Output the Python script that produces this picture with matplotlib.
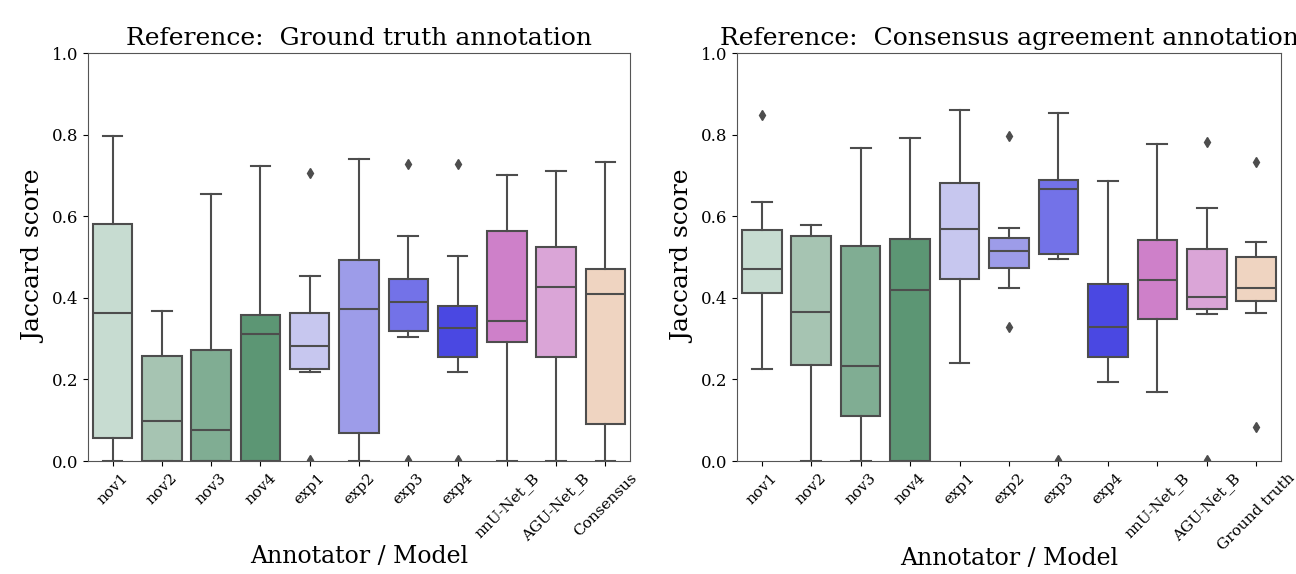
import matplotlib
matplotlib.use("Agg")
import matplotlib.pyplot as plt

plt.rcParams['font.family'] = ['DejaVu Serif']

labels_left = ["nov1", "nov2", "nov3", "nov4", "exp1", "exp2", "exp3", "exp4",
               "nnU-Net_B", "AGU-Net_B", "Consensus"]
labels_right = ["nov1", "nov2", "nov3", "nov4", "exp1", "exp2", "exp3", "exp4",
                "nnU-Net_B", "AGU-Net_B", "Ground truth"]

colors = ["#c7dcd1", "#a6c4b2", "#80ad93", "#5c9674", "#c7c7ef", "#9d9ce9",
          "#7372e8", "#4a48e2", "#ce80c9", "#daa5d7", "#efd4c1"]

# Left panel: reference = ground truth annotation
left_whislo = [0.0, 0.0, 0.0, 0.0, 0.218, 0.0, 0.305, 0.218, 0.0, 0.0, 0.0]
left_q1     = [0.056, 0.0, 0.0, 0.0, 0.226, 0.068, 0.3175, 0.256, 0.292, 0.256, 0.091]
left_med    = [0.363, 0.099, 0.077, 0.312, 0.283, 0.373, 0.3895, 0.327, 0.342, 0.426, 0.409]
left_q3     = [0.580, 0.258, 0.273, 0.358, 0.363, 0.493, 0.445, 0.3805, 0.563, 0.525, 0.471]
left_whishi = [0.796, 0.368, 0.654, 0.724, 0.4525, 0.740, 0.5516, 0.502, 0.700, 0.710, 0.733]
left_fliers = [[], [], [], [], [0.705, 0.003], [], [0.7275, 0.003], [0.729, 0.003], [], [], []]

# Right panel: reference = consensus agreement annotation
right_whislo = [0.225, 0.0, 0.0, 0.0, 0.239, 0.425, 0.496, 0.194, 0.168, 0.361, 0.363]
right_q1     = [0.4116, 0.2365, 0.110, 0.0, 0.446, 0.474, 0.507, 0.256, 0.349, 0.3715, 0.392]
right_med    = [0.4705, 0.366, 0.233, 0.419, 0.5696, 0.514, 0.666, 0.328, 0.4435, 0.403, 0.423]
right_q3     = [0.566, 0.5516, 0.526, 0.544, 0.681, 0.5466, 0.689, 0.4345, 0.542, 0.520, 0.499]
right_whishi = [0.634, 0.5786, 0.767, 0.792, 0.860, 0.571, 0.852, 0.686, 0.778, 0.6195, 0.537]
right_fliers = [[0.848], [], [], [], [], [0.796, 0.329], [0.003], [], [], [0.781, 0.003], [0.734, 0.083]]


def draw(ax, labels, whislo, q1, med, q3, whishi, fliers, title, xlabel_y):
    stats = []
    for i in range(len(labels)):
        stats.append(dict(label=labels[i], whislo=whislo[i], q1=q1[i], med=med[i],
                          q3=q3[i], whishi=whishi[i], fliers=fliers[i]))
    edge = "#4d4d4d"
    bp = ax.bxp(stats, positions=range(len(labels)), widths=0.8, patch_artist=True,
                showfliers=True,
                boxprops=dict(edgecolor=edge, linewidth=1.5),
                medianprops=dict(color=edge, linewidth=1.5),
                whiskerprops=dict(color=edge, linewidth=1.5),
                capprops=dict(color=edge, linewidth=1.5),
                flierprops=dict(marker="d", markerfacecolor=edge, markeredgecolor=edge,
                                markersize=5))
    for patch, c in zip(bp["boxes"], colors):
        patch.set_facecolor(c)
    for cap in bp["caps"]:
        x = cap.get_xdata()
        mid = (x[0] + x[1]) / 2
        cap.set_xdata([mid - 0.2, mid + 0.2])
    ax.set_xlim(-0.5, len(labels) - 0.5)
    ax.set_ylim(0, 1.0)
    ax.set_yticks([0.0, 0.2, 0.4, 0.6, 0.8, 1.0])
    ax.set_xticks(range(len(labels)))
    ax.set_xticklabels(labels, rotation=45, ha="center", fontsize=11)
    ax.tick_params(axis="y", labelsize=12)
    ax.set_ylabel("Jaccard score", fontsize=18)
    ax.set_xlabel("Annotator / Model", fontsize=17)
    ax.xaxis.set_label_coords(0.5, xlabel_y)
    ax.set_title(title, fontsize=18)
    for s in ax.spines.values():
        s.set_color("#555555")


fig = plt.figure(figsize=(12.96, 5.74), dpi=100)
ax1 = fig.add_axes([88 / 1296, 1 - 461 / 574, 542 / 1296, 408 / 574])
ax2 = fig.add_axes([737 / 1296, 1 - 461 / 574, 544 / 1296, 408 / 574])
draw(ax1, labels_left, left_whislo, left_q1, left_med, left_q3, left_whishi, left_fliers,
     "Reference:  Ground truth annotation", -0.205)
draw(ax2, labels_right, right_whislo, right_q1, right_med, right_q3, right_whishi, right_fliers,
     "Reference:  Consensus agreement annotation", -0.212)
fig.savefig("out.png", dpi=100)
